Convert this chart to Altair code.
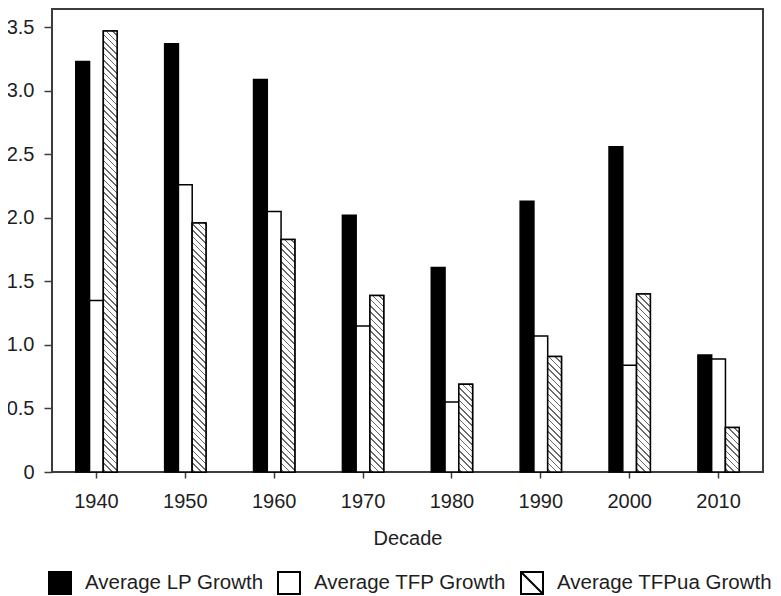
import altair as alt
import pandas as pd

decades = ["1940", "1950", "1960", "1970", "1980", "1990", "2000", "2010"]
series_names = ["Average LP Growth", "Average TFP Growth", "Average TFPua Growth"]
lp_growth = [3.23, 3.37, 3.09, 2.02, 1.61, 2.13, 2.56, 0.92]
tfp_growth = [1.35, 2.26, 2.05, 1.15, 0.55, 1.07, 0.84, 0.89]
tfpua_growth = [3.47, 1.96, 1.83, 1.39, 0.69, 0.91, 1.40, 0.35]
y_ticks = [0, 0.5, 1.0, 1.5, 2.0, 2.5, 3.0, 3.5]

rows = []
for s, vals in zip(series_names, [lp_growth, tfp_growth, tfpua_growth]):
    for d, v in zip(decades, vals):
        rows.append({"decade": d, "series": s, "value": v})
df = pd.DataFrame(rows)

W, H = 711, 463
Y_MAX = 3.644
PAD_IN = 0.535
step = W / len(decades)
bar_w = step * (1 - PAD_IN) / 3
px_per_unit = H / Y_MAX

FONT = "Liberation Sans"
INK = "#1e1e1e"
FRAME = "#3c3c3c"
HATCH = "#6a6a6a"
HATCH_SYMBOL = "M-1,-1H1V1H-1Z M-1,-1L1,1"


def hatch(v):
    """Diagonal (\\) hatch as a hard-stop linear gradient in bbox units."""
    w = bar_w
    h = v * px_per_unit
    L = w + h
    k = L / (w * w + h * h)
    period, lw = 6.3, 1.6
    stops = [{"offset": 0, "color": "white"}]
    s = 2.0
    while s < L:
        a = s / L
        b = min((s + lw) / L, 1.0)
        stops += [
            {"offset": a, "color": "white"},
            {"offset": a, "color": HATCH},
            {"offset": b, "color": HATCH},
            {"offset": b, "color": "white"},
        ]
        s += period
    stops.append({"offset": 1, "color": "white"})
    return {"gradient": "linear", "x1": 0, "y1": 1, "x2": k * w, "y2": 1 - k * h,
            "stops": stops}


x_axis = alt.Axis(title="Decade", labelAngle=0, tickSize=6, labelPadding=13,
                  domain=False, tickColor=FRAME, tickWidth=1.5,
                  labelFont=FONT, labelFontSize=20, labelColor=INK,
                  titleFont=FONT, titleFontSize=20, titleFontWeight="normal",
                  titleColor=INK, titleBaseline="alphabetic", titleY=72)
y_axis = alt.Axis(values=y_ticks,
                  labelExpr="datum.value == 0 ? '0' : format(datum.value, '.1f')",
                  grid=False, title=None, domain=False, tickSize=8,
                  tickColor=FRAME, tickWidth=1.5, labelPadding=10,
                  labelFont=FONT, labelFontSize=20, labelColor=INK)

x_scale = alt.Scale(paddingInner=PAD_IN, paddingOuter=PAD_IN / 2)
xo_scale = alt.Scale(domain=series_names, paddingInner=0, paddingOuter=0)
y_scale = alt.Scale(domain=[0, Y_MAX], nice=False)
fill_scale = alt.Scale(domain=series_names, range=["black", "white", "white"])
shape_scale = alt.Scale(domain=series_names, range=["square", "square", HATCH_SYMBOL])

legend = alt.Legend(
    title=None, orient="none", legendX=-4, legendY=562, direction="horizontal",
    columns=3, symbolSize=484, symbolStrokeWidth=2, symbolStrokeColor="black",
    labelFont=FONT, labelFontSize=20.5, labelColor=INK, labelLimit=400,
    labelOffset=13, columnPadding=10,
)

X = alt.X("decade:N", sort=decades, scale=x_scale, axis=x_axis)
XO = alt.XOffset("series:N", sort=series_names, scale=xo_scale)
Y = alt.Y("value:Q", scale=y_scale, axis=y_axis)

bars = alt.Chart(df).mark_bar(stroke="black", strokeWidth=1.5).encode(
    x=X, xOffset=XO, y=Y,
    fill=alt.Fill("series:N", sort=series_names, scale=fill_scale, legend=legend),
)

hatch_layers = []
for d, v in zip(decades, tfpua_growth):
    layer = alt.Chart(df).transform_filter(
        f"datum.decade == '{d}' && datum.series == 'Average TFPua Growth'"
    ).mark_bar(fill=hatch(v), stroke="black", strokeWidth=1.5).encode(
        x=X, xOffset=XO, y=Y,
    )
    hatch_layers.append(layer)

# legend-only layer: draws no marks (its data is filtered out, domains are explicit)
legend_layer = alt.Chart(df).transform_filter("false").mark_point(
    filled=True, stroke="black", strokeWidth=2, opacity=1
).encode(
    x=X, y=Y,
    fill=alt.Fill("series:N", sort=series_names, scale=fill_scale, legend=legend),
    shape=alt.Shape("series:N", sort=series_names, scale=shape_scale, legend=legend),
)

chart = alt.layer(bars, *hatch_layers, legend_layer).properties(
    width=W, height=H,
    autosize=alt.AutoSizeParams(type="none"),
    padding={"left": 44, "top": 1, "right": 10, "bottom": 124},
).configure(font=FONT).configure_view(stroke=FRAME, strokeWidth=2)

chart.save("out.html", embed_options={"renderer": "svg", "actions": False})
